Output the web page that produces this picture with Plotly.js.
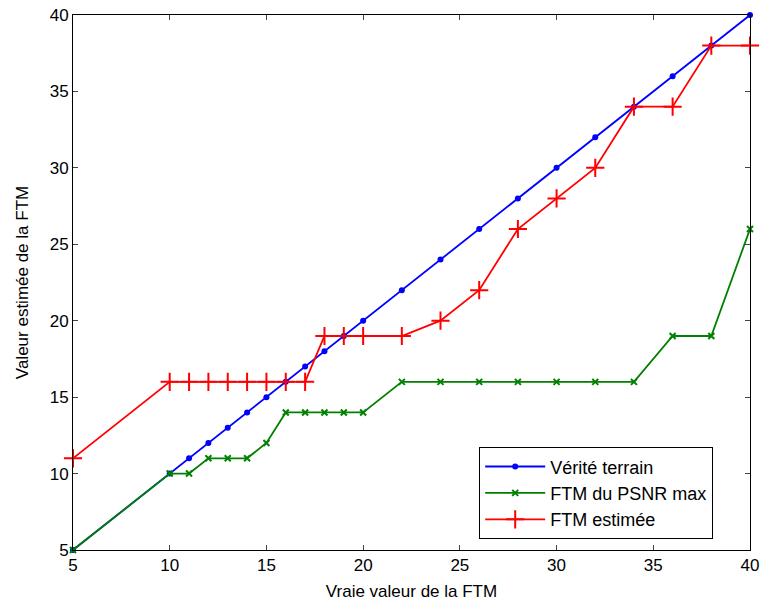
<!DOCTYPE html>
<html><head><meta charset="utf-8">
<script src="https://cdn.plot.ly/plotly-3.0.1.min.js"></script>
<style>body{margin:0;background:#fff}#g{width:764px;height:605px}</style>
</head><body><div id="g"></div>
<script>
const xVals = [5,10,11,12,13,14,15,16,17,18,19,20,22,24,26,28,30,32,34,36,38,40];
const verite = [5,10,11,12,13,14,15,16,17,18,19,20,22,24,26,28,30,32,34,36,38,40];
const psnrMax = [5,10,10,11,11,11,12,14,14,14,14,14,16,16,16,16,16,16,16,19,19,26];
const estimee = [11,16,16,16,16,16,16,16,16,19,19,19,19,20,22,26,28,30,34,34,38,38];
const names = ['Vérité terrain','FTM du PSNR max','FTM estimée'];
const ticks = [5,10,15,20,25,30,35,40];

const traces = [
  {x:xVals,y:verite,name:names[0],mode:'lines+markers',cliponaxis:false,line:{color:'#0000ff',width:1.8},marker:{symbol:'circle',size:6,color:'#0000ff'}},
  {x:xVals,y:psnrMax,name:names[1],mode:'lines+markers',cliponaxis:false,line:{color:'#008000',width:1.8},marker:{symbol:'x-thin',size:6,color:'#008000',line:{color:'#008000',width:2}}},
  {x:xVals,y:estimee,name:names[2],mode:'lines+markers',cliponaxis:false,line:{color:'#ff0000',width:1.8},marker:{symbol:'cross-thin',size:13,color:'#ff0000',line:{color:'#ff0000',width:2}}}
];
const ax = {
  range:[5,40], tickvals:ticks, ticktext:ticks.map(String), ticks:'inside', ticklen:5,
  showline:true, linecolor:'#000', linewidth:1, mirror:'ticks', showgrid:false, zeroline:false,
  tickfont:{family:'Liberation Sans, Arial, sans-serif',size:17,color:'#000'}
};
const layout = {
  width:764,height:605,margin:{l:73,r:14,t:15,b:55},
  paper_bgcolor:'#fff',plot_bgcolor:'#fff',
  font:{family:'Liberation Sans, Arial, sans-serif',size:17,color:'#000'},
  xaxis:Object.assign({},ax,{title:{text:'Vraie valeur de la FTM',standoff:10,font:{size:17}}}),
  yaxis:Object.assign({},ax,{title:{text:'Valeur estimée de la FTM',standoff:16,font:{size:17}}}),
  showlegend:true,
  legend:{x:0.6,y:0.02,xanchor:'left',yanchor:'bottom',bgcolor:'#fff',bordercolor:'#000',borderwidth:1,
    font:{size:18},tracegroupgap:0,itemwidth:60}
};
Plotly.newPlot('g',traces,layout,{displayModeBar:false,staticPlot:true});
</script></body></html>
